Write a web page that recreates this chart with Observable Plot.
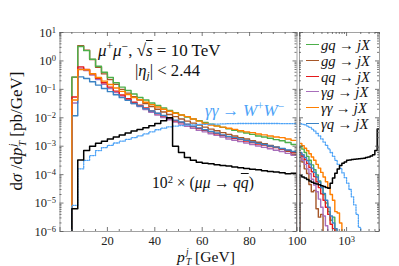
<!DOCTYPE html>
<html><head><meta charset="utf-8">
<script src="https://cdn.jsdelivr.net/npm/d3@7"></script>
<script src="https://cdn.jsdelivr.net/npm/@observablehq/plot@0.6"></script>
<style>
body{margin:0;background:#fff;}
#wrap{position:relative;width:399px;height:266px;overflow:hidden;font-family:"Liberation Serif",serif;color:#111;background:#fff;}
#wrap svg{position:absolute;top:0;}
.t{position:absolute;white-space:nowrap;line-height:1;}
.t i,.lg i{font-style:italic;}
.t sup{font-size:68%;vertical-align:0.5em;line-height:0;}
.t sub{font-size:68%;vertical-align:-0.3em;line-height:0;}
.ss{display:inline-block;vertical-align:middle;font-size:60%;line-height:1.02;margin-left:1px;}
.ss i{display:block;}
.lg{position:absolute;left:306px;white-space:nowrap;line-height:1;}
.lg b{display:inline-block;width:13px;height:0;border-top:1.6px solid;vertical-align:0.3em;margin-right:2px;}
.ar{margin:0 0.22em;}
</style></head><body><div id="wrap"></div>
<script>
// ---- data ----
const leftEdges = [5,7.5,10,12.5,15,17.5,20,22.5,25,27.5,30,32.5,35,37.5,40,42.5,45,47.5,50,52.5,55,57.5,60,62.5,65,67.5,70,72.5,75,77.5,80,82.5,85,87.5,90,92.5,95,97.5,100];
const rightEdges = [100,112.2,125.9,141.3,158.5,177.8,199.5,223.9,251.2,281.8,316.2,354.8,398.1,446.7,501.2,562.3,631,707.9,794.3,891.3,1000,1122,1259,1413,1585,1778,1995,2239,2512,2818,3162,3548,3981,4467,5000];

const gqLeft = [0.27,3.2,2.3,1.15,0.65,0.40,0.26,0.17,0.12,0.091,0.069,0.052,0.042,0.033,0.027,0.022,0.018,0.015,0.0126,0.0107,0.0091,0.0079,0.0069,0.0060,0.0052,0.0046,0.0041,0.0036,0.0032,0.0029,0.0026,0.0023,0.0021,0.0019,0.0017,0.00155,0.00135,0.00115];
const ggLeft = [0.27,3.4,2.4,1.12,0.60,0.35,0.22,0.15,0.10,0.074,0.055,0.042,0.032,0.025,0.020,0.016,0.013,0.011,0.0091,0.0076,0.0065,0.0055,0.0047,0.0040,0.0035,0.0030,0.0026,0.0023,0.0020,0.0018,0.00155,0.00138,0.00123,0.00107,0.00095,0.00079,0.00066,0.00052];
const qqLeft = [0.054,0.62,0.50,0.355,0.245,0.17,0.12,0.087,0.063,0.047,0.035,0.0275,0.022,0.0174,0.0141,0.0115,0.0095,0.0079,0.0068,0.0058,0.0049,0.0042,0.0036,0.0032,0.00275,0.0024,0.00214,0.0019,0.0017,0.00151,0.00135,0.0012,0.0011,0.00098,0.00089,0.00079,0.00071,0.0006];
const agLeft = [0.033,0.56,0.46,0.32,0.22,0.151,0.107,0.078,0.058,0.043,0.032,0.025,0.0195,0.0155,0.0126,0.0102,0.0085,0.0071,0.006,0.005,0.0043,0.0036,0.0032,0.00275,0.0024,0.0021,0.0018,0.00162,0.00145,0.00129,0.00115,0.00102,0.00091,0.00081,0.00072,0.00065,0.00056,0.00048];
const aaLeft = [0.042,0.50,0.49,0.355,0.26,0.195,0.148,0.112,0.085,0.066,0.052,0.043,0.035,0.029,0.024,0.020,0.017,0.0145,0.0126,0.011,0.0091,0.0076,0.0063,0.0056,0.0051,0.0047,0.0043,0.0039,0.0035,0.0032,0.0030,0.0027,0.0025,0.0023,0.0021,0.0020,0.0018,0.0016];
const aqLeft = [0.0118,0.275,0.24,0.186,0.141,0.107,0.083,0.065,0.051,0.041,0.032,0.026,0.021,0.0174,0.0145,0.012,0.010,0.0083,0.0071,0.006,0.0051,0.0044,0.0038,0.0033,0.0029,0.0025,0.0022,0.002,0.0018,0.0016,0.0014,0.00126,0.00115,0.00102,0.00093,0.00083,0.00074,0.00065];
const wwLeft = [8.3e-6,1.6e-4,3.2e-4,4.7e-4,7.0e-4,8.9e-4,1.07e-3,1.3e-3,1.5e-3,1.75e-3,2.0e-3,2.3e-3,2.7e-3,3.2e-3,3.8e-3,4.3e-3,4.8e-3,5.1e-3,5.3e-3,5.5e-3,5.6e-3,5.8e-3,5.9e-3,6.0e-3,6.0e-3,6.1e-3,6.2e-3,6.2e-3,6.3e-3,6.3e-3,6.3e-3,6.3e-3,6.3e-3,6.3e-3,6.3e-3,6.2e-3,6.2e-3,6.2e-3];
const mmLeft = [6.3e-6,3.3e-4,7.1e-4,1.0e-3,1.26e-3,1.5e-3,1.8e-3,2.1e-3,2.5e-3,2.9e-3,3.4e-3,3.9e-3,4.5e-3,5.2e-3,6.3e-3,7.9e-3,1.0e-2,1.0e-3,6.0e-4,4.0e-4,3.2e-4,2.75e-4,2.5e-4,2.4e-4,2.25e-4,2.1e-4,2.0e-4,1.86e-4,1.74e-4,1.66e-4,1.55e-4,1.48e-4,1.38e-4,1.29e-4,1.23e-4,1.17e-4,1.07e-4,1.12e-4];

const gqRight = [1.0e-3,7.9e-4,6.0e-4,4.4e-4,3.2e-4,2.2e-4,1.48e-4,9.8e-5,6.0e-5,3.5e-5,2.0e-5,1.0e-5,5.0e-6,2.5e-6,3.2e-6,6e-7];
const ggRight = [4.5e-4,2.8e-4,1.6e-4,1.1e-4,4.5e-5,2.5e-5,2.8e-5,6.3e-6,3.2e-6,4.0e-6,5e-7];
const qqRight = [5.6e-4,4.5e-4,3.4e-4,2.5e-4,1.8e-4,1.26e-4,8.5e-5,5.6e-5,3.5e-5,2.1e-5,1.26e-5,7.1e-6,4.0e-6,1.8e-6,1.26e-6,3e-7];
const agRight = [4.2e-4,3.2e-4,2.3e-4,1.6e-4,1.07e-4,6.9e-5,4.3e-5,2.5e-5,1.38e-5,7.1e-6,3.5e-6,1.6e-6,5e-7];
const aaRight = [1.26e-3,1.05e-3,8.5e-4,6.9e-4,5.4e-4,4.2e-4,3.2e-4,2.3e-4,1.7e-4,1.2e-4,8.3e-5,5.6e-5,3.5e-5,2.0e-5,1.26e-5,5.0e-6,4.5e-6,2.0e-6,6e-7];
const aqRight = [6.0e-4,5.0e-4,4.0e-4,3.1e-4,2.35e-4,1.7e-4,1.2e-4,8.3e-5,5.5e-5,3.5e-5,2.2e-5,1.26e-5,7.1e-6,3.5e-6,2.0e-6,1.26e-6,3e-7];
const wwRight = [6.2e-3,5.9e-3,5.6e-3,5.1e-3,4.6e-3,4.0e-3,3.4e-3,2.8e-3,2.3e-3,1.8e-3,1.4e-3,1.07e-3,8.1e-4,6.0e-4,4.4e-4,3.2e-4,2.3e-4,1.66e-4,1.15e-4,7.8e-5,5.0e-5,3.0e-5,1.66e-5,8.7e-6,4.0e-6,1.4e-6,4e-7];
const mmRight = [9.3e-5,8.3e-5,7.6e-5,6.8e-5,6.0e-5,5.4e-5,5.0e-5,4.7e-5,4.4e-5,4.1e-5,3.8e-5,3.5e-5,3.3e-5,5.0e-5,7.6e-5,1.12e-4,1.58e-4,2.1e-4,2.5e-4,2.8e-4,3.2e-4,3.3e-4,3.4e-4,3.5e-4,3.55e-4,3.6e-4,3.7e-4,3.8e-4,4.0e-4,4.2e-4,4.5e-4,5.0e-4,7.0e-4,4.0e-3];

const yTicks = [1e-6,1e-5,1e-4,1e-3,1e-2,1e-1,1,10];
const yTickLabels = ["10^−6","10^−5","10^−4","10^−3","10^−2","10^−1","10^0","10^1"];
const xTicksLeft = [20,40,60,80,100];
const xTickLabelsLeft = ["20","40","60","80","100"];
const xTicksRight = [1000];
const xTickLabelsRight = ["10^3"];

// ---- styling ----
const series = [
  {key:"gg", color:"#a65628", left:ggLeft, right:ggRight},
  {key:"gq", color:"#4daf4a", left:gqLeft, right:gqRight},
  {key:"ag", color:"#a86fbb", left:agLeft, right:agRight},
  {key:"qq", color:"#e41a1c", left:qqLeft, right:qqRight},
  {key:"aq", color:"#3a82c4", left:aqLeft, right:aqRight},
  {key:"aa", color:"#ff7f00", left:aaLeft, right:aaRight}
];
const FLOOR = 1e-9;
function steps(edges, vals){
  const pts = [{x:edges[0], y:FLOOR}];
  vals.forEach((v,i)=>{ pts.push({x:edges[i], y:v}, {x:edges[i+1], y:v}); });
  pts.push({x:edges[vals.length], y:FLOOR});
  return pts;
}
const yMinor = [];
for (let e=-6;e<1;e++) for (let m=2;m<10;m++) yMinor.push(m*Math.pow(10,e));

function panel(o){
  const fh = 266-32-35, fw = o.width-o.marginLeft-o.marginRight;
  const tk = {stroke:"#555", strokeWidth:0.8};
  const side = o.side;
  const edges = side==="left" ? leftEdges : rightEdges;
  const marks = [];
  series.forEach(s=> marks.push(Plot.line(steps(edges, s[side]), {x:"x", y:"y", stroke:s.color, strokeWidth:1.4, clip:true})));
  marks.push(Plot.line(steps(edges, side==="left"?wwLeft:wwRight), {x:"x", y:"y", stroke:"#4da3f7", strokeWidth:1.3, strokeDasharray:"1.3 1.3", clip:true}));
  marks.push(Plot.line(steps(edges, side==="left"?mmLeft:mmRight), {x:"x", y:"y", stroke:"#000", strokeWidth:1.5, clip:true}));
  marks.push(Plot.frame({stroke:"#999", strokeWidth:0.9}));
  marks.push(Plot.tickX(o.xMaj, {x:d=>d, insetTop:fh-4, ...tk}));
  marks.push(Plot.tickX(o.xMaj, {x:d=>d, insetBottom:fh-4, ...tk}));
  marks.push(Plot.tickX(o.xMin, {x:d=>d, insetTop:fh-2, ...tk}));
  marks.push(Plot.tickX(o.xMin, {x:d=>d, insetBottom:fh-2, ...tk}));
  marks.push(Plot.tickY(yTicks, {y:d=>d, insetRight:fw-4, ...tk}));
  marks.push(Plot.tickY(yTicks, {y:d=>d, insetLeft:fw-4, ...tk}));
  marks.push(Plot.tickY(yMinor, {y:d=>d, insetRight:fw-2, ...tk}));
  marks.push(Plot.tickY(yMinor, {y:d=>d, insetLeft:fw-2, ...tk}));
  marks.push(Plot.axisX({ticks:o.xLab, tickSize:0, tickPadding:5, label:null, tickFormat:d=>o.xLabText[o.xLab.indexOf(d)]}));
  if (side==="left") marks.push(Plot.axisY({ticks:yTicks, tickSize:0, tickPadding:4, label:null, tickFormat:d=>yTickLabels[yTicks.indexOf(d)]}));
  return Plot.plot({
    width:o.width, height:266, marginLeft:o.marginLeft, marginRight:o.marginRight, marginTop:32, marginBottom:35,
    x:o.x, y:{type:"log", domain:[1e-6,10], axis: side==="left" ? undefined : null},
    style:{fontFamily:"'Liberation Serif', serif", fontSize:"12.5px", color:"#222", background:"transparent", overflow:"visible"},
    marks
  });
}
const xMinorLeft = [5,10,15,25,30,35,45,50,55,65,70,75,85,90,95];
const xMinorRight = [200,300,400,500,600,700,800,900,2000,3000,4000,5000];

const leftSvg = panel({side:"left", width:298, marginLeft:59.5, marginRight:1.5, x:{domain:[0,100]}, xMaj:[0,20,40,60,80,100], xMin:xMinorLeft, xLab:xTicksLeft, xLabText:xTickLabelsLeft});
const rightSvg = panel({side:"right", width:103, marginLeft:2, marginRight:21, x:{type:"log", domain:[100,5000]}, xMaj:[100,1000], xMin:xMinorRight, xLab:xTicksRight, xLabText:xTickLabelsRight});
rightSvg.style.left = "297px";
leftSvg.style.left = "0px";

const ns = "http://www.w3.org/2000/svg";
[leftSvg, rightSvg].forEach(svg=>{
  svg.querySelectorAll("text").forEach(t=>{
    const s = t.textContent;
    if (s.includes("^")) {
      const [b,e] = s.split("^");
      t.textContent = "";
      const t1 = document.createElementNS(ns,"tspan"); t1.textContent = b;
      const t2 = document.createElementNS(ns,"tspan"); t2.textContent = e;
      t2.setAttribute("dy","-0.45em"); t2.setAttribute("font-size","8.5");
      t.append(t1,t2);
    }
  });
});
const wrap = document.getElementById("wrap");
wrap.append(leftSvg, rightSvg);

// ---- annotations ----
const AR = '<span class="ar">→</span>';
const legendItems = [
  {color:"#4daf4a", html:`<i>gq</i>${AR}<i>jX</i>`},
  {color:"#a65628", html:`<i>gg</i>${AR}<i>jX</i>`},
  {color:"#e41a1c", html:`<i>qq</i>${AR}<i>jX</i>`},
  {color:"#a86fbb", html:`<i>γg</i>${AR}<i>jX</i>`},
  {color:"#ff7f00", html:`<i>γγ</i>${AR}<i>jX</i>`},
  {color:"#3a82c4", html:`<i>γq</i>${AR}<i>jX</i>`}
];
const legendY = [45,61,77,92,108,124];
let html = "";
legendItems.forEach((d,i)=>{
  html += `<div class="lg" data-cy="${legendY[i]}"><b style="border-color:${d.color}"></b><span class="lt">${d.html}</span></div>`;
});
html += `<div class="t" data-x="98" data-cy="50" data-w="123"><i>μ</i><sup>+</sup><i>μ</i><sup>−</sup>, √<span style="text-decoration:overline"><i>s</i></span> = 10 TeV</div>`;
html += `<div class="t" data-x="135" data-cy="71" data-w="65">|<i>η</i><sub><i>j</i></sub>| &lt; 2.44</div>`;
html += `<div class="t" data-x="205" data-cy="110" data-w="89" style="color:#4da3f7"><i>γγ</i>${AR}<i>W</i><sup>+</sup><i>W</i><sup>−</sup></div>`;
html += `<div class="t" data-x="152" data-cy="183" data-w="102">10<sup>2</sup> × (<i>μμ</i>${AR}<i>q</i><span style="text-decoration:overline"><i>q</i></span>)</div>`;
html += `<div class="t" id="ylab" data-w="140">d<i>σ</i> /d<i>p</i><span class="ss"><i>j</i><i>T</i></span> [pb/GeV]</div>`;
html += `<div class="t" id="xlab" data-w="58"><i>p</i><span class="ss"><i>j</i><i>T</i></span> [GeV]</div>`;
const ov = document.createElement("div");
ov.innerHTML = html;
while (ov.firstChild) wrap.appendChild(ov.firstChild);

// fit font sizes to the reference text widths
wrap.querySelectorAll(".t").forEach(el=>{
  el.style.fontSize = "14px";
  const w = el.getBoundingClientRect().width;
  const fs = Math.max(10, Math.min(17, 14*(+el.dataset.w)/w));
  el.style.fontSize = fs.toFixed(2)+"px";
  const h = el.offsetHeight;
  if (el.dataset.x) { el.style.left = el.dataset.x+"px"; el.style.top = (+el.dataset.cy - h/2)+"px"; }
});
const yl = document.getElementById("ylab");
yl.style.left = "18px"; yl.style.top = "131px"; yl.style.transform = "translate(-50%,-50%) rotate(-90deg)";
const xl = document.getElementById("xlab");
xl.style.left = "206px"; xl.style.top = "258px"; xl.style.transform = "translate(-50%,-50%)";
// legend: text from x=321 to x=370
let lf = 13;
wrap.querySelectorAll(".lg").forEach(el=>el.style.fontSize = lf+"px");
const first = wrap.querySelector(".lg .lt");
lf = Math.max(8, Math.min(16, lf*49/first.getBoundingClientRect().width));
wrap.querySelectorAll(".lg").forEach(el=>{
  el.style.fontSize = lf.toFixed(2)+"px";
  el.style.top = (+el.dataset.cy - el.offsetHeight/2)+"px";
});
</script>
</body></html>
